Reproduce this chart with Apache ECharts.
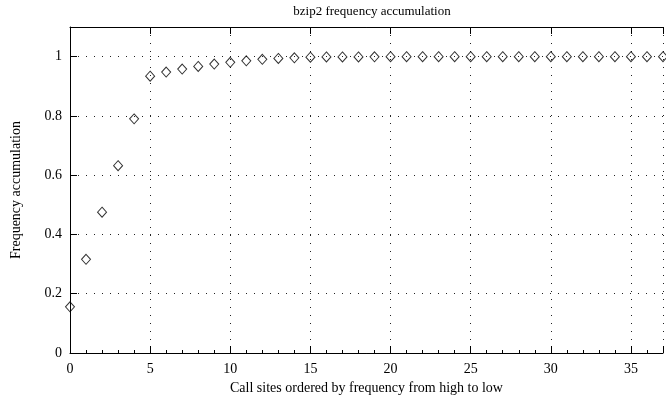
<!DOCTYPE html>
<html>
<head>
<meta charset="utf-8">
<script src="https://cdn.jsdelivr.net/npm/echarts@6/dist/echarts.min.js"></script>
<style>
  html, body { margin: 0; padding: 0; background: #fff; }
  #chart { width: 666px; height: 404px; }
</style>
</head>
<body>
<div id="chart"></div>
<script>
// Call-site rank (0 = most frequent) and cumulative frequency share
const callSites = [0, 1, 2, 3, 4, 5, 6, 7, 8, 9, 10, 11, 12, 13, 14, 15, 16, 17, 18, 19,
                   20, 21, 22, 23, 24, 25, 26, 27, 28, 29, 30, 31, 32, 33, 34, 35, 36, 37];
const accumulation = [0.156, 0.316, 0.475, 0.632, 0.790, 0.934, 0.948, 0.958, 0.967, 0.975,
                      0.981, 0.986, 0.991, 0.994, 0.996, 0.998, 0.999, 0.999, 0.999, 0.9995,
                      1, 1, 1, 1, 1, 1, 1, 1, 1, 1,
                      1, 1, 1, 1, 1, 1, 1, 1];
const xTicks = [0, 5, 10, 15, 20, 25, 30, 35];
const yTicks = [0, 0.2, 0.4, 0.6, 0.8, 1];

const serif = '"Liberation Serif", "DejaVu Serif", serif';
const dotted = { color: '#222', width: 1, type: [1, 7] };

const chart = echarts.init(document.getElementById('chart'), null, { renderer: 'canvas' });
chart.setOption({
  animation: false,
  backgroundColor: '#fff',
  title: {
    text: 'bzip2 frequency accumulation',
    left: 367, top: 0,
    textAlign: 'center',
    textStyle: { fontFamily: serif, fontSize: 13, fontWeight: 'normal', color: '#000' }
  },
  grid: { left: 70, top: 27, width: 598, bottom: 51, containLabel: false },
  xAxis: [{
    type: 'value', min: 0, max: 37, interval: 5,
    name: 'Call sites ordered by frequency from high to low',
    nameLocation: 'middle', nameGap: 26,
    nameTextStyle: { fontFamily: serif, fontSize: 14, color: '#000' },
    axisLine: { show: true, onZero: false, lineStyle: { color: '#000', width: 1 } },
    axisTick: { show: true, inside: true, length: 7, lineStyle: { color: '#000' } },
    minorTick: { show: true, splitNumber: 5, length: 3, lineStyle: { color: '#000' } },
    axisLabel: {
      fontFamily: serif, fontSize: 14, color: '#000', margin: 9,
      formatter: v => xTicks.includes(v) ? String(v) : ''
    },
    splitLine: { show: true, lineStyle: dotted }
  }, {
    type: 'value', min: 0, max: 37, interval: 5, position: 'top',
    axisLine: { show: true, onZero: false, lineStyle: { color: '#000', width: 1 } },
    axisTick: { show: true, inside: true, length: 7, lineStyle: { color: '#000' } },
    axisLabel: { show: false },
    splitLine: { show: false }
  }],
  yAxis: [{
    type: 'value', min: 0, max: 1.1, interval: 0.2,
    name: 'Frequency accumulation',
    nameLocation: 'middle', nameGap: 47,
    nameTextStyle: { fontFamily: serif, fontSize: 14, color: '#000' },
    axisLine: { show: true, onZero: false, lineStyle: { color: '#000', width: 1 } },
    axisTick: { show: true, inside: true, length: 7, lineStyle: { color: '#000' } },
    axisLabel: {
      fontFamily: serif, fontSize: 14, color: '#000', margin: 8,
      showMaxLabel: false,
      formatter: v => {
        const t = yTicks.find(y => Math.abs(y - v) < 1e-9);
        return t === undefined ? '' : String(t);
      }
    },
    splitLine: { show: true, lineStyle: dotted }
  }],
  series: [{
    type: 'scatter',
    xAxisIndex: 0, yAxisIndex: 0,
    symbol: 'diamond',
    symbolSize: [9, 10],
    clip: false,
    itemStyle: { color: 'rgba(255,255,255,0)', borderColor: '#000', borderWidth: 1 },
    data: callSites.map((x, i) => [x, accumulation[i]])
  }]
});
</script>
</body>
</html>
